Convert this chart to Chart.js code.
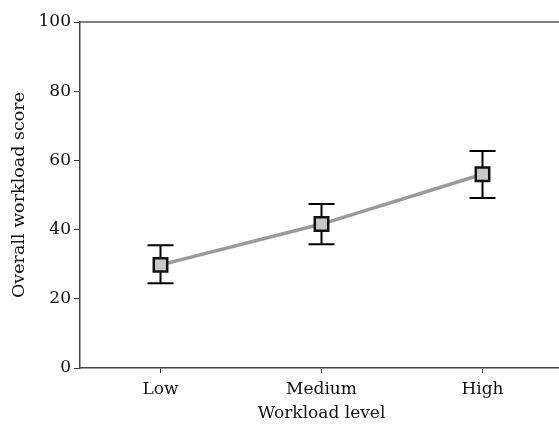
<!DOCTYPE html>
<html>
<head>
<meta charset="utf-8">
<script src="https://cdn.jsdelivr.net/npm/chart.js@4/dist/chart.umd.min.js"></script>
<style>
  html, body { margin: 0; padding: 0; background: #fff; overflow: hidden; }
  #wrap { width: 559px; height: 424px; overflow: hidden; }
</style>
</head>
<body>
<div id="wrap"><canvas id="chart" width="563" height="424"></canvas></div>
<script>
const categories = ['Low', 'Medium', 'High'];
const meanScores = [29.8, 41.6, 56.0];
const upperErrors = [35.5, 47.4, 62.7];
const lowerErrors = [24.5, 35.8, 49.1];
const yTicks = [0, 20, 40, 60, 80, 100];

const fontFamily = "'DejaVu Serif', 'Liberation Serif', serif";

const frameLine = {
    id: 'frameLine',
    beforeDatasetsDraw(chart) {
        const { ctx, chartArea } = chart;
        ctx.save();
        ctx.strokeStyle = '#555';
        ctx.lineWidth = 1.5;
        ctx.beginPath();
        ctx.moveTo(chartArea.left, chartArea.top);
        ctx.lineTo(chart.width, chartArea.top);
        ctx.stroke();
        ctx.restore();
    }
};

const errorBars = {
    id: 'errorBars',
    beforeDatasetsDraw(chart) {
        const { ctx } = chart;
        const x = chart.scales.x;
        const y = chart.scales.y;
        ctx.save();
        ctx.strokeStyle = '#000';
        ctx.lineWidth = 2;
        categories.forEach((c, i) => {
            const px = x.getPixelForValue(i);
            const top = y.getPixelForValue(upperErrors[i]);
            const bot = y.getPixelForValue(lowerErrors[i]);
            ctx.beginPath();
            ctx.moveTo(px, top);
            ctx.lineTo(px, bot);
            ctx.moveTo(px - 13, top);
            ctx.lineTo(px + 13, top);
            ctx.moveTo(px - 13, bot);
            ctx.lineTo(px + 13, bot);
            ctx.stroke();
        });
        ctx.restore();
    }
};

window.addEventListener('load', () => {
    buildWorkloadChart();
});

function buildWorkloadChart() {
    const chartCtx = document.getElementById('chart').getContext('2d');

    new Chart(chartCtx, {
        type: 'line',
        data: {
            labels: categories,
            datasets: [{
                data: meanScores,
                borderColor: '#9a9a9a',
                borderWidth: 3.5,
                pointStyle: 'rect',
                pointRadius: 9.5,
                pointBackgroundColor: '#c8c8c8',
                pointBorderColor: '#111',
                pointBorderWidth: 2.5,
                tension: 0
            }]
        },
        options: {
            responsive: false,
            animation: false,
            layout: {
                autoPadding: false,
                padding: { top: 22, right: 0, left: 0, bottom: 0 }
            },
            plugins: {
                legend: { display: false },
                tooltip: { enabled: false }
            },
            scales: {
                x: {
                    offset: true,
                    grid: {
                        display: true,
                        drawOnChartArea: false,
                        drawTicks: true,
                        tickLength: 5,
                        color: '#333',
                        offset: false
                    },
                    border: { color: '#444', width: 1.5 },
                    ticks: {
                        color: '#111',
                        font: { family: fontFamily, size: 17 },
                        padding: 6
                    },
                    title: {
                        display: true,
                        text: 'Workload level',
                        color: '#111',
                        font: { family: fontFamily, size: 17 },
                        padding: { top: 2, bottom: 0 }
                    },
                    afterFit(scale) { scale.height = 56; }
                },
                y: {
                    min: 0,
                    max: 100,
                    afterBuildTicks(scale) {
                        scale.ticks = yTicks.map(v => ({ value: v }));
                    },
                    grid: {
                        display: true,
                        drawOnChartArea: false,
                        drawTicks: true,
                        tickLength: 6,
                        color: '#333'
                    },
                    border: { color: '#444', width: 1.5 },
                    ticks: {
                        color: '#111',
                        font: { family: fontFamily, size: 17 },
                        padding: 3
                    },
                    title: {
                        display: true,
                        text: 'Overall workload score',
                        color: '#111',
                        font: { family: fontFamily, size: 17.5 },
                        padding: { top: 9, bottom: 4 }
                    },
                    afterFit(scale) { scale.width = 80; }
                }
            }
        },
        plugins: [frameLine, errorBars]
    });
}
</script>
</body>
</html>
